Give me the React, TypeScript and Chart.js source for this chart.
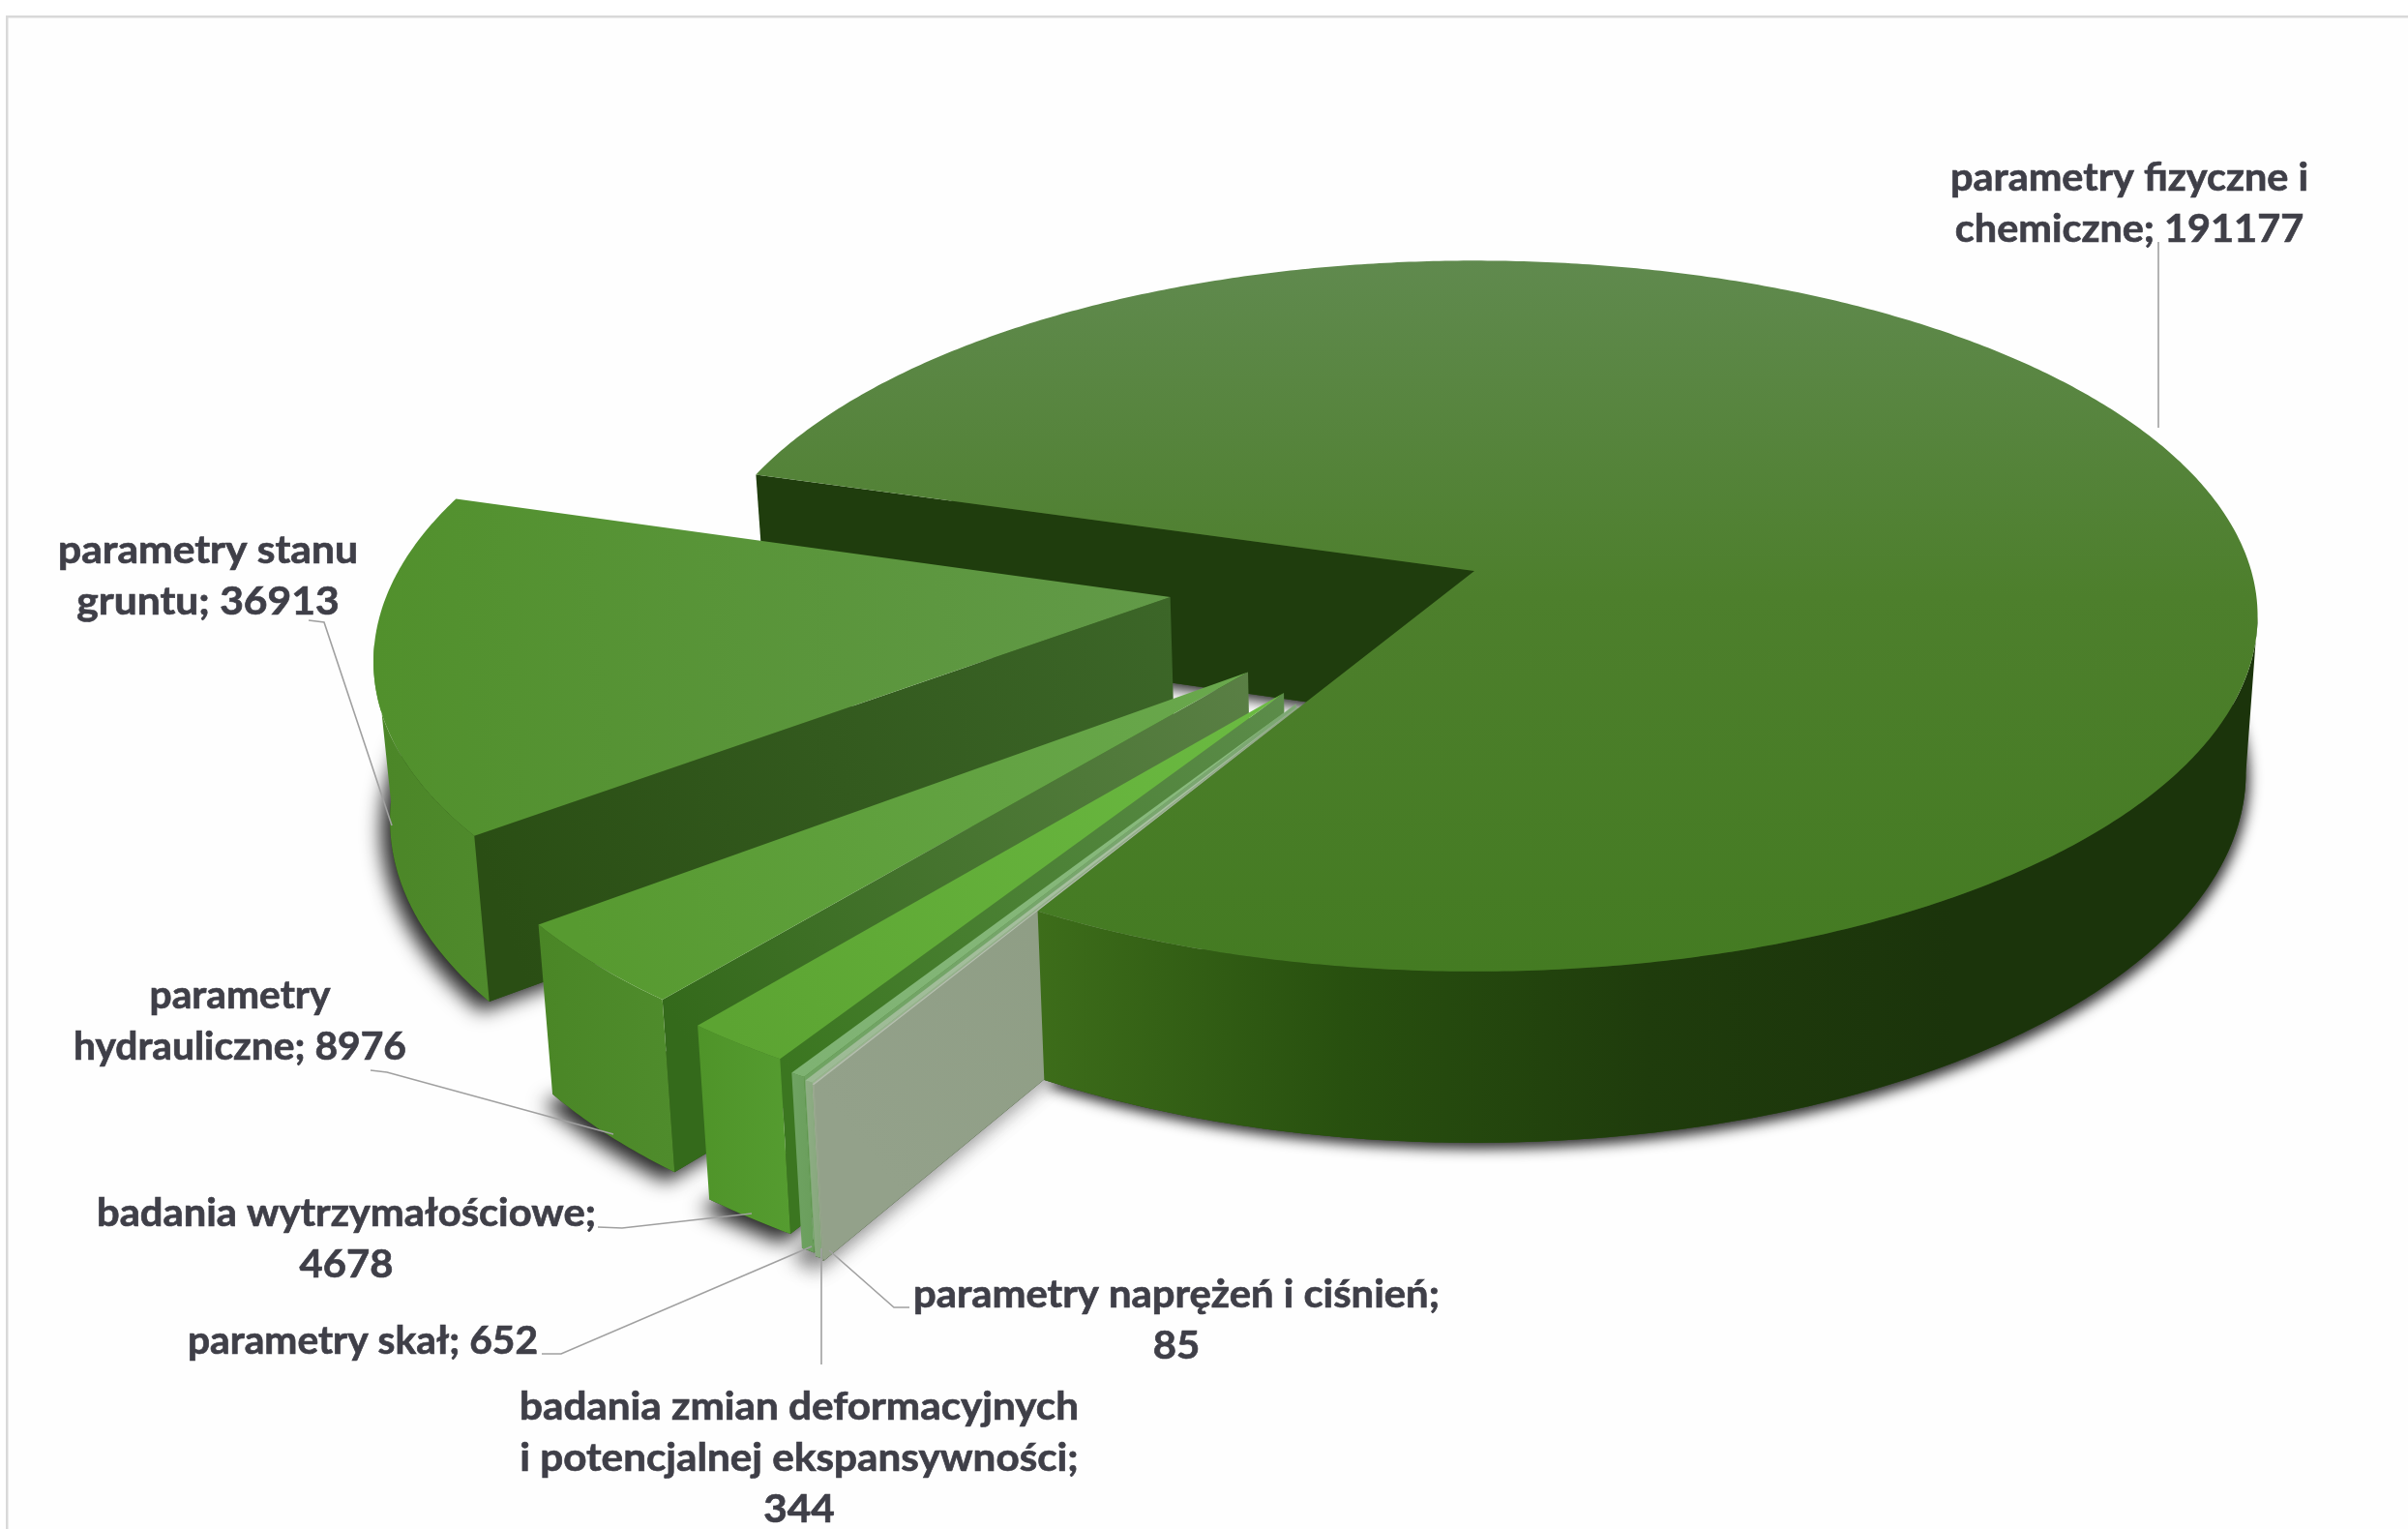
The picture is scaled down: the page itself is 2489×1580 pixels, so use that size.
import { useEffect, useRef } from "react";
import { Chart, registerables } from "chart.js";

Chart.register(...registerables);

// Values per category, clockwise from the large slice.
const categories = [
  "parametry fizyczne i chemiczne",
  "parametry naprężeń i ciśnień",
  "badania zmian deformacyjnych i potencjalnej ekspansywności",
  "parametry skał",
  "badania wytrzymałościowe",
  "parametry hydrauliczne",
  "parametry stanu gruntu",
];
const values = [191177, 85, 344, 652, 4678, 8976, 36913];

// Pie geometry in canvas pixels.
const WIDTH = 2489;
const HEIGHT = 1580;
const CENTER_X = 1524;
const CENTER_Y = 590;
const RADIUS = 803;
const EXPLODE = [0, 346, 344, 340, 328, 318, 317];
const ROTATION = 286.6;

// 3D view: squash of the pie plane, perspective strength, extrusion depth.
const TILT = 0.45;
const PERSPECTIVE = 0.000158;
const DEPTH = 160;
const TAPER = 0.015;

const INK = "#3f3f48";
const LEADER = "#a0a0a0";

// Colour ramps per slice: top face (rim to apex), rim wall (left to right), radial wall (rim to apex).
const styles = [
  { top: ["#628b52", "#4d7f2c", "#447b22"], rim: ["#3d6d1a", "#28500f", "#1f3c0c", "#1b340b", "#1b340b"], wall: ["#1f3d0d", "#1f3d0d"] },
  { top: ["#b4bcae", "#c4c8c0"], rim: ["#9aa890", "#8f9e85"], wall: ["#93a18a", "#8a9a7f"] },
  { top: ["#9cba94", "#b0c4a8"], rim: ["#8fae85", "#86a67c"], wall: ["#9bb591", "#8fa886"] },
  { top: ["#7eb272", "#8cbc80"], rim: ["#6fa362", "#6a9e5c"], wall: ["#6fa362", "#7ea874"] },
  { top: ["#5ca432", "#6bbb42"], rim: ["#4f9429", "#559c30"], wall: ["#3b7620", "#5c8c4a"] },
  { top: ["#579a30", "#6aa84e"], rim: ["#4a8626", "#4f8c2c"], wall: ["#346a1b", "#5a7f45"] },
  { top: ["#51902c", "#629a48"], rim: ["#4b8627", "#4f8a2c"], wall: ["#2a4e14", "#3c6628"] },
];

// Where each value label and its leader line sit.
const labelLayout = [
  { x: 2201, y: 184, width: 370, words: [3, 2], leader: [[2231, 250], [2231, 442]] },
  { x: 1216, y: 1338, width: 544, words: [4, 1], leader: [[940, 1351], [924, 1351], [857, 1292]] },
  { x: 826, y: 1454, width: 578, words: [3, 3, 1], leader: [[849, 1410], [849, 1290]] },
  { x: 375, y: 1386, width: 362, words: [3], leader: [[560, 1399], [580, 1399], [839, 1288]] },
  { x: 358, y: 1254, width: 516, words: [2, 1], leader: [[618, 1268], [643, 1269], [777, 1254]] },
  { x: 248, y: 1029, width: 344, words: [1, 2], leader: [[383, 1106], [400, 1108], [634, 1172]] },
  { x: 215, y: 569, width: 310, words: [2, 2], leader: [[319, 641], [335, 643], [405, 853]] },
];
const LINE_HEIGHT = 53;
const FONT = 'bold 40px Lato, "Open Sans", sans-serif';

type P = { x: number; y: number };

function project(arc: any, angle: number, r: number, h: number): P {
  const mid = (arc.startAngle + arc.endAngle) / 2;
  const off = arc.options.offset || 0;
  const u = r * Math.cos(angle) + off * Math.cos(mid);
  const v = r * Math.sin(angle) + off * Math.sin(mid);
  const s = 1 / (1 - PERSPECTIVE * v);
  const g = 1 - TAPER * h;
  return { x: arc.x + u * s * g, y: arc.y + v * TILT * s * g + h * DEPTH * s };
}

function arcPoints(arc: any, from: number, to: number, h: number): P[] {
  const steps = Math.max(1, Math.ceil(Math.abs(to - from) / (Math.PI / 360)));
  const out: P[] = [];
  for (let i = 0; i <= steps; i++) {
    out.push(project(arc, from + ((to - from) * i) / steps, arc.outerRadius, h));
  }
  return out;
}

function tracePath(ctx: CanvasRenderingContext2D, pts: P[]) {
  ctx.beginPath();
  pts.forEach((p, i) => (i ? ctx.lineTo(p.x, p.y) : ctx.moveTo(p.x, p.y)));
  ctx.closePath();
}

function ramp(ctx: CanvasRenderingContext2D, a: P, b: P, stops: string[]) {
  const g = ctx.createLinearGradient(a.x, a.y, b.x, b.y);
  stops.forEach((c, i) => g.addColorStop(i / (stops.length - 1), c));
  return g;
}

// The part of the rim turned toward the viewer, as an angle range.
function frontRange(arc: any): [number, number] | null {
  const limit = PERSPECTIVE * arc.outerRadius;
  let from = NaN;
  let to = NaN;
  const n = Math.ceil((arc.endAngle - arc.startAngle) / (Math.PI / 720));
  for (let i = 0; i <= n; i++) {
    const a = arc.startAngle + ((arc.endAngle - arc.startAngle) * i) / n;
    if (Math.sin(a) > limit) {
      if (isNaN(from)) from = a;
      to = a;
    }
  }
  return isNaN(from) ? null : [from, to];
}

function drawWall(ctx: CanvasRenderingContext2D, arc: any, i: number) {
  const a = arc.startAngle;
  const r = arc.outerRadius;
  const pts = [project(arc, a, 0, 0), project(arc, a, r, 0), project(arc, a, r, 1), project(arc, a, 0, 1)];
  tracePath(ctx, pts);
  ctx.fillStyle = ramp(ctx, pts[1], pts[0], styles[i].wall);
  ctx.fill();
}

function drawRim(ctx: CanvasRenderingContext2D, arc: any, i: number) {
  const range = frontRange(arc);
  if (!range) return;
  const upper = arcPoints(arc, range[0], range[1], 0);
  const lower = arcPoints(arc, range[0], range[1], 1).reverse();
  const all = upper.concat(lower);
  const xs = all.map((p) => p.x);
  tracePath(ctx, all);
  ctx.fillStyle = ramp(ctx, { x: Math.min(...xs), y: 0 }, { x: Math.max(...xs), y: 0 }, styles[i].rim);
  ctx.fill();
}

function drawTop(ctx: CanvasRenderingContext2D, arc: any, i: number, vertical: boolean) {
  const rim = arcPoints(arc, arc.startAngle, arc.endAngle, 0);
  const apex = project(arc, 0, 0, 0);
  tracePath(ctx, [apex, ...rim]);
  const mid = (arc.startAngle + arc.endAngle) / 2;
  const from = vertical ? { x: arc.x, y: arc.y - RADIUS * TILT } : project(arc, mid, arc.outerRadius, 0);
  const to = vertical ? { x: arc.x, y: arc.y + RADIUS * TILT * 1.15 } : apex;
  ctx.fillStyle = ramp(ctx, from, to, styles[i].top);
  ctx.fill();
}

// Soft shadow under a slice: exploded pieces cast it down and to the left.
function drawShadow(ctx: CanvasRenderingContext2D, arc: any) {
  const lower = arcPoints(arc, arc.startAngle, arc.endAngle, 1);
  const exploded = (arc.options.offset || 0) > 0;
  ctx.save();
  ctx.shadowColor = "rgba(0,0,0,0.85)";
  ctx.shadowBlur = exploded ? 20 : 14;
  ctx.shadowOffsetX = exploded ? -9 : 3;
  ctx.shadowOffsetY = exploded ? 10 : 6;
  ctx.fillStyle = "#2a4a14";
  tracePath(ctx, [project(arc, 0, 0, 1), ...lower]);
  ctx.fill();
  ctx.restore();
}

// Replaces the flat arcs with the extruded, exploded pie.
const extrudedPie = {
  id: "extrudedPie",
  beforeDatasetDraw(chart: any) {
    const { ctx } = chart;
    const arcs = chart.getDatasetMeta(0).data;
    ctx.save();
    arcs.forEach((arc: any) => drawShadow(ctx, arc));
    drawWall(ctx, arcs[0], 0);
    for (let i = arcs.length - 1; i > 0; i--) {
      drawWall(ctx, arcs[i], i);
      drawRim(ctx, arcs[i], i);
      drawTop(ctx, arcs[i], i, false);
    }
    drawRim(ctx, arcs[0], 0);
    drawTop(ctx, arcs[0], 0, true);
    ctx.restore();
    return false;
  },
};

const frameAndLabels = {
  id: "frameAndLabels",
  beforeDraw(chart: any) {
    const { ctx } = chart;
    ctx.save();
    ctx.fillStyle = "#fefefe";
    ctx.fillRect(0, 0, WIDTH, HEIGHT);
    ctx.fillStyle = "#ffffff";
    ctx.fillRect(0, 0, WIDTH, 16);
    ctx.fillRect(0, 0, 6, HEIGHT);
    ctx.fillStyle = "#d9d9d9";
    ctx.fillRect(6, 16, WIDTH - 6, 2.5);
    ctx.fillRect(6, 16, 2.5, HEIGHT - 16);
    ctx.restore();
  },
  afterDraw(chart: any) {
    const { ctx } = chart;
    ctx.save();
    ctx.strokeStyle = LEADER;
    ctx.lineWidth = 1.6;
    labelLayout.forEach((spot) => {
      ctx.beginPath();
      spot.leader.forEach(([x, y], i) => (i ? ctx.lineTo(x, y) : ctx.moveTo(x, y)));
      ctx.stroke();
    });
    ctx.font = FONT;
    ctx.fillStyle = INK;
    ctx.strokeStyle = INK;
    ctx.lineWidth = 0.7;
    ctx.textAlign = "center";
    ctx.textBaseline = "middle";
    labelLayout.forEach((spot, i) => {
      const words = `${categories[i]}; ${values[i]}`.split(" ");
      let at = 0;
      const lines = spot.words.map((n) => {
        const line = words.slice(at, at + n).join(" ");
        at += n;
        return line;
      });
      const widest = Math.max(...lines.map((l) => ctx.measureText(l).width));
      lines.forEach((line, k) => {
        ctx.save();
        ctx.translate(spot.x, spot.y + k * LINE_HEIGHT);
        ctx.scale(spot.width / widest, 1);
        ctx.fillText(line, 0, 0);
        ctx.strokeText(line, 0, 0);
        ctx.restore();
      });
    });
    ctx.restore();
  },
};

export default function App() {
  const ref = useRef<HTMLCanvasElement>(null);
  useEffect(() => {
    const chart = new Chart(ref.current as HTMLCanvasElement, {
      type: "pie",
      data: {
        labels: categories,
        datasets: [
          {
            data: values,
            offset: EXPLODE,
            backgroundColor: styles.map((s) => s.top[0]),
            borderWidth: 0,
          } as any,
        ],
      },
      options: {
        animation: false,
        responsive: false,
        events: [],
        rotation: ROTATION,
        radius: RADIUS,
        layout: {
          padding: {
            left: 2 * CENTER_X - WIDTH,
            bottom: HEIGHT - 2 * CENTER_Y,
          },
        },
        plugins: { legend: { display: false }, tooltip: { enabled: false } },
      } as any,
      plugins: [frameAndLabels, extrudedPie],
    });
    return () => chart.destroy();
  }, []);
  return (
    <div style={{ position: "fixed", left: 0, top: 0 }}>
      <canvas ref={ref} width={WIDTH} height={HEIGHT} style={{ display: "block" }} />
    </div>
  );
}
